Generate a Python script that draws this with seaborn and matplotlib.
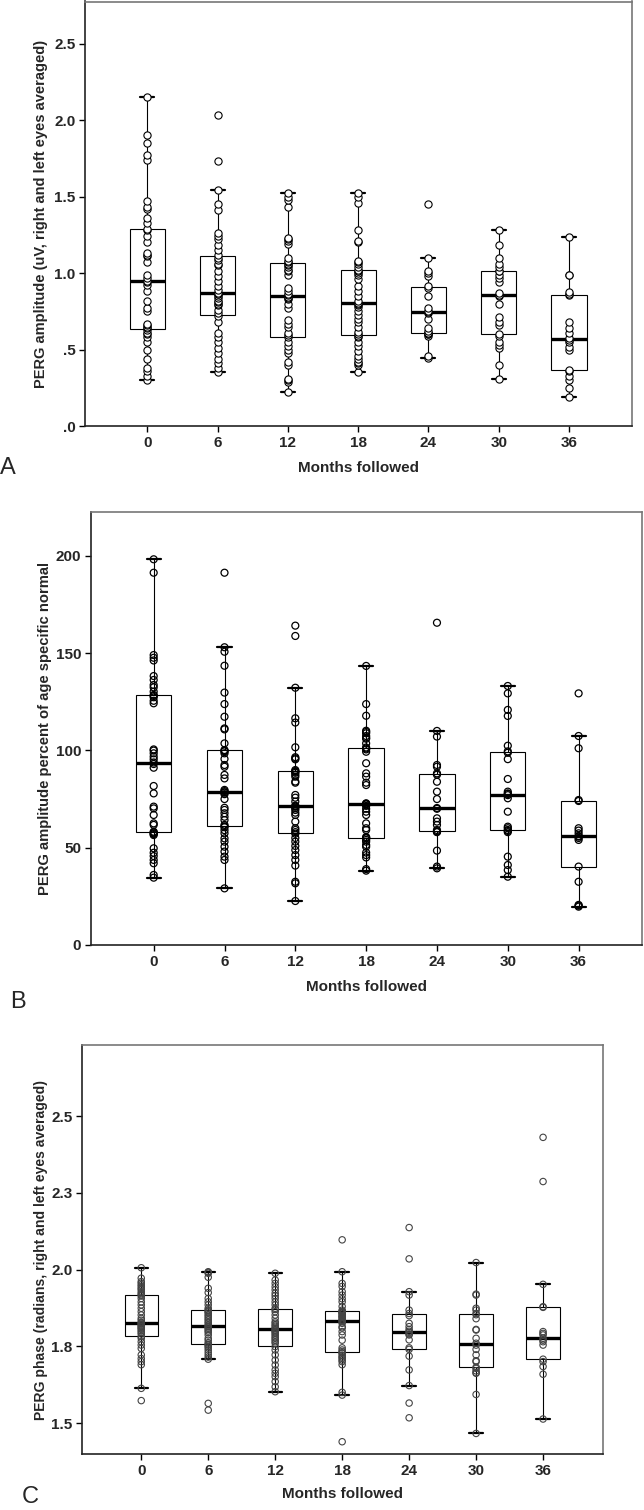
import numpy as np
import pandas as pd
import matplotlib
matplotlib.use("Agg")
import matplotlib.pyplot as plt
import seaborn as sns

months = ["0", "6", "12", "18", "24", "30", "36"]

# A) PERG amplitude (uV)
amp_m0 = [0.30, 0.33, 0.36, 0.38, 0.44, 0.50, 0.55, 0.58, 0.60, 0.61, 0.63, 0.64,
          0.65, 0.66, 0.67, 0.75, 0.77, 0.82, 0.88, 0.92, 0.94, 0.95, 0.97, 0.99,
          1.07, 1.11, 1.12, 1.13, 1.20, 1.24, 1.28, 1.29, 1.33, 1.36, 1.42, 1.43,
          1.47, 1.74, 1.77, 1.85, 1.90, 2.15]
amp_m6 = [0.355, 0.38, 0.41, 0.44, 0.48, 0.51, 0.55, 0.58, 0.61, 0.68, 0.72, 0.74,
          0.76, 0.79, 0.80, 0.81, 0.82, 0.84, 0.85, 0.86, 0.865, 0.87,
          0.89, 0.915, 0.95, 0.98, 1.01, 1.05, 1.06, 1.085, 1.10, 1.115,
          1.15, 1.18, 1.22, 1.24, 1.26, 1.41, 1.45, 1.54, 1.73, 2.03]
amp_m12 = [0.224, 0.29, 0.30, 0.31, 0.40, 0.42, 0.48, 0.50, 0.52, 0.55, 0.58, 0.595,
           0.61, 0.65, 0.67, 0.69, 0.77, 0.80, 0.83, 0.84, 0.845, 0.855,
           0.865, 0.885, 0.905, 0.99, 1.01, 1.02, 1.04, 1.05, 1.06, 1.07,
           1.08, 1.10, 1.19, 1.21, 1.22, 1.23, 1.43, 1.48, 1.50, 1.525]
amp_m18 = [0.355, 0.40, 0.41, 0.42, 0.44, 0.46, 0.49, 0.52, 0.55, 0.58, 0.59, 0.60,
           0.617, 0.649, 0.68, 0.70, 0.725, 0.75, 0.78, 0.79, 0.80, 0.805,
           0.82, 0.85, 0.88, 0.915, 0.96, 0.99, 1.00, 1.01, 1.015, 1.02,
           1.04, 1.06, 1.07, 1.08, 1.20, 1.21, 1.28, 1.46, 1.50, 1.52]
amp_m24 = [0.447, 0.46, 0.59, 0.60, 0.602, 0.605, 0.61, 0.623, 0.64, 0.70, 0.74,
           0.746, 0.752, 0.77, 0.85, 0.905, 0.913, 0.98, 1.00, 1.015, 1.096, 1.449]
amp_m30 = [0.307, 0.40, 0.51, 0.53, 0.55, 0.59, 0.602, 0.66, 0.68, 0.715, 0.80, 0.85,
           0.858, 0.87, 0.94, 0.965, 0.99, 1.012, 1.016, 1.04, 1.06, 1.10, 1.18, 1.281]
amp_m36 = [0.192, 0.246, 0.301, 0.33, 0.36, 0.366, 0.50, 0.519, 0.551, 0.56, 0.572,
           0.606, 0.643, 0.682, 0.855, 0.86, 0.878, 0.985, 0.99, 1.237]

# B) PERG amplitude, percent of age specific normal
pct_m0 = [34.6, 36.0, 42.0, 43.7, 45.7, 47.4, 49.7, 56.5, 57.0, 57.4, 57.8, 58.2,
          61.7, 62.5, 66.8, 70.2, 71.1, 77.9, 81.7, 91.1, 93.0, 93.8,
          95.4, 96.8, 98.5, 99.9, 100.5, 124.2, 125.5, 127.3, 128.0, 128.5,
          130.2, 132.4, 133.6, 136.2, 138.2, 146.2, 147.6, 149.0, 191.3, 198.2]
pct_m6 = [29.1, 43.7, 45.4, 48.0, 50.5, 53.1, 54.8, 57.4, 59.0, 60.5, 61.0, 61.7,
          64.2, 65.9, 67.7, 69.4, 70.5, 75.0, 77.5, 78.3, 78.5, 79.1,
          79.7, 85.6, 87.4, 91.6, 92.5, 95.6, 98.5, 99.5, 99.8, 100.2,
          103.6, 110.8, 111.3, 117.3, 123.8, 129.7, 143.5, 150.7, 153.0, 191.3]
pct_m12 = [22.6, 31.7, 32.5, 40.8, 43.7, 46.2, 48.8, 50.9, 53.1, 55.0, 57.2, 58.0,
           59.1, 60.0, 63.4, 66.8, 68.0, 69.4, 70.3, 71.1, 71.2, 71.6,
           73.7, 75.7, 77.1, 83.4, 84.0, 86.5, 87.5, 88.5, 89.0, 89.4,
           89.9, 95.4, 95.9, 96.5, 101.6, 114.3, 116.5, 132.2, 158.8, 164.1]
pct_m18 = [38.2, 39.0, 45.0, 46.2, 47.5, 50.5, 51.4, 53.1, 54.0, 54.8, 55.1, 55.5,
           59.1, 60.0, 62.5, 66.8, 68.5, 70.0, 71.5, 72.3, 72.4, 72.6,
           72.8, 82.2, 83.4, 86.5, 88.2, 93.4, 99.3, 100.5, 101.0, 101.5,
           103.6, 106.0, 106.5, 107.4, 108.8, 109.5, 110.1, 117.8, 123.8, 143.4]
pct_m24 = [39.4, 40.3, 48.5, 58.0, 58.2, 58.5, 59.1, 61.7, 63.4, 65.1, 70.0, 70.4,
           75.0, 78.8, 83.9, 87.5, 88.2, 91.6, 92.5, 107.1, 110.0, 165.6]
pct_m30 = [35.1, 38.5, 41.1, 45.4, 58.0, 58.6, 59.1, 60.0, 60.8, 68.5, 75.4, 77.0,
           77.6, 77.9, 78.8, 85.3, 95.5, 98.8, 99.5, 102.4, 117.7, 120.8, 129.3, 133.1]
pct_m36 = [19.7, 20.2, 20.6, 32.5, 40.3, 54.0, 55.0, 55.7, 56.0, 57.4, 58.8, 60.0,
           74.0, 74.5, 101.1, 107.4, 129.3]

# C) PERG phase (radians)
ph_m0 = [1.573, 1.613, 1.690, 1.700, 1.710, 1.722, 1.743, 1.754, 1.765, 1.776,
         1.782, 1.790, 1.795, 1.800, 1.805, 1.809, 1.812, 1.816, 1.819, 1.823,
         1.826, 1.828, 1.835, 1.841, 1.852, 1.863, 1.874, 1.885, 1.895, 1.906,
         1.914, 1.918, 1.922, 1.928, 1.935, 1.939, 1.945, 1.950, 1.956, 1.961,
         1.972, 2.006]
ph_m6 = [1.542, 1.564, 1.708, 1.715, 1.722, 1.730, 1.738, 1.745, 1.750, 1.754,
         1.757, 1.762, 1.770, 1.776, 1.787, 1.795, 1.800, 1.805, 1.809, 1.813,
         1.815, 1.819, 1.825, 1.830, 1.836, 1.841, 1.847, 1.852, 1.858, 1.862,
         1.865, 1.869, 1.874, 1.885, 1.895, 1.906, 1.925, 1.939, 1.975, 1.988,
         1.991, 1.993]
ph_m12 = [1.602, 1.618, 1.635, 1.651, 1.662, 1.673, 1.689, 1.705, 1.722, 1.738,
          1.749, 1.760, 1.765, 1.771, 1.776, 1.781, 1.787, 1.792, 1.797, 1.800,
          1.803, 1.807, 1.809, 1.815, 1.819, 1.825, 1.830, 1.841, 1.852, 1.863,
          1.870, 1.874, 1.885, 1.895, 1.906, 1.915, 1.923, 1.934, 1.944, 1.955,
          1.966, 1.988]
ph_m18 = [1.439, 1.591, 1.600, 1.690, 1.700, 1.705, 1.711, 1.715, 1.720, 1.727,
          1.729, 1.733, 1.738, 1.745, 1.770, 1.787, 1.798, 1.810, 1.814, 1.825,
          1.830, 1.834, 1.836, 1.840, 1.845, 1.847, 1.850, 1.855, 1.858, 1.860,
          1.862, 1.864, 1.868, 1.880, 1.895, 1.905, 1.917, 1.928, 1.945, 1.955,
          1.993, 2.097]
ph_m24 = [1.517, 1.565, 1.622, 1.673, 1.718, 1.740, 1.745, 1.771, 1.787, 1.790,
          1.795, 1.799, 1.805, 1.814, 1.825, 1.850, 1.857, 1.868, 1.917, 1.928,
          2.035, 2.137]
ph_m30 = [1.466, 1.593, 1.662, 1.664, 1.670, 1.678, 1.682, 1.700, 1.703, 1.722,
          1.740, 1.754, 1.760, 1.776, 1.803, 1.805, 1.840, 1.853, 1.857, 1.868,
          1.874, 1.917, 1.920, 2.023]
ph_m36 = [1.513, 1.659, 1.684, 1.700, 1.708, 1.754, 1.765, 1.770, 1.776, 1.787,
          1.792, 1.798, 1.877, 1.879, 1.952, 2.287, 2.431]

amp_ticks = [0, 0.5, 1.0, 1.5, 2.0, 2.5]
amp_ticklabels = [".0", ".5", "1.0", "1.5", "2.0", "2.5"]
pct_ticks = [0, 50, 100, 150, 200]
pct_ticklabels = ["0", "50", "100", "150", "200"]
ph_ticks = [1.5, 1.75, 2.0, 2.25, 2.5]
ph_ticklabels = ["1.5", "1.8", "2.0", "2.3", "2.5"]


def long_form(groups):
    return pd.DataFrame({
        "month": np.repeat(months, [len(g) for g in groups]),
        "value": np.concatenate(groups),
    })


sns.set_style("white")
plt.rcParams["font.family"] = ["Liberation Sans", "DejaVu Sans"]
NARROW = ["Liberation Sans Narrow", "Liberation Sans", "DejaVu Sans"]

fig = plt.figure(figsize=(6.44, 15.10), dpi=100)


def draw_panel(rect, groups, ylim, ticks, ticklabels, ylabel, ylab_x, ylab_size,
               face, edge, msize, mlw, letter, letter_xy):
    ax = fig.add_axes(rect)
    df = long_form(groups)
    sns.boxplot(data=df, x="month", y="value", order=months, ax=ax,
                width=0.5, whis=1.5, showfliers=False,
                color="white", linecolor="black", linewidth=0.8,
                medianprops=dict(linewidth=2.4),
                capprops=dict(linewidth=1.6), capwidths=0.2)
    n_before = len(ax.collections)
    sns.stripplot(data=df, x="month", y="value", order=months, ax=ax,
                  jitter=False, size=msize, color="white", edgecolor=edge,
                  linewidth=mlw, zorder=3)
    if face == "none":
        for coll in ax.collections[n_before:]:
            coll.set_facecolor("none")
    ax.set_xlim(-0.885, 6.895)
    ax.set_ylim(*ylim)
    ax.set_yticks(ticks)
    ax.set_yticklabels(ticklabels)
    ax.tick_params(axis="both", direction="out", length=4, width=1,
                   color="black", pad=3, left=True, bottom=True)
    for lab in ax.get_xticklabels() + ax.get_yticklabels():
        lab.set_family(NARROW)
        lab.set_fontweight("bold")
        lab.set_fontsize(11)
    for side in ["left", "bottom"]:
        ax.spines[side].set_color("#222222")
        ax.spines[side].set_linewidth(1.2)
    for side in ["top", "right"]:
        ax.spines[side].set_color("#777777")
        ax.spines[side].set_linewidth(1.2)
    ax.set_xlabel("Months followed", fontsize=11, fontweight="bold", family=NARROW)
    ax.xaxis.set_label_coords(0.5, -0.098)
    ax.xaxis.label.set_va("center")
    ax.set_ylabel(ylabel, fontsize=ylab_size, fontweight="bold")
    ax.yaxis.set_label_coords(ylab_x, 0.5)
    ax.yaxis.label.set_va("center")
    fig.text(letter_xy[0] / 644, 1 - letter_xy[1] / 1510, letter, fontsize=17,
             ha="center", va="center", family=NARROW)
    return ax


draw_panel([85 / 644, 1 - 426 / 1510, 547 / 644, 424.5 / 1510],
           [amp_m0, amp_m6, amp_m12, amp_m18, amp_m24, amp_m30, amp_m36],
           (0, 2.775), amp_ticks, amp_ticklabels,
           "PERG amplitude (uV, right and left eyes averaged)", -0.080, 10.5,
           "white", "black", 5.2, 0.8, "A", (8, 468))

draw_panel([91 / 644, 1 - 945 / 1510, 551 / 644, 433 / 1510],
           [pct_m0, pct_m6, pct_m12, pct_m18, pct_m24, pct_m30, pct_m36],
           (0, 222.5), pct_ticks, pct_ticklabels,
           "PERG amplitude percent of age specific normal", -0.0835, 10.6,
           "none", "black", 5.0, 0.9, "B", (18, 1002))

draw_panel([82 / 644, 1 - 1454 / 1510, 521 / 644, 409 / 1510],
           [ph_m0, ph_m6, ph_m12, ph_m18, ph_m24, ph_m30, ph_m36],
           (1.399, 2.732), ph_ticks, ph_ticklabels,
           "PERG phase (radians, right and left eyes averaged)", -0.079, 10.1,
           "none", "#444444", 4.6, 0.8, "C", (30, 1497))

fig.savefig("out.png", dpi=100, facecolor="white")
